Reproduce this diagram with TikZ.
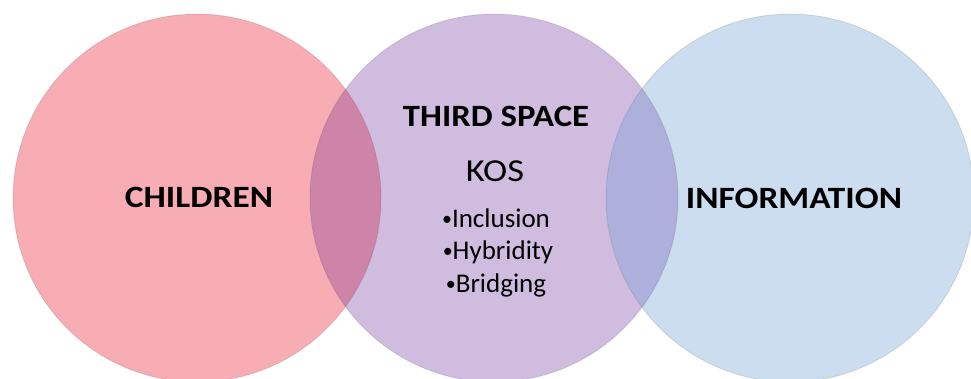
\documentclass[tikz,border=0pt]{standalone}
\usepackage{fontspec}
\setmainfont{Carlito}
\definecolor{pinkfill}{HTML}{F7ADB3}
\definecolor{purplefill}{HTML}{D0BCDF}
\definecolor{bluefill}{HTML}{CBDDEE}
\definecolor{lensleft}{HTML}{CE84A9}
\definecolor{lensright}{HTML}{ADB0DA}
\newcommand{\widetext}[2]{\scalebox{#1}[1]{#2}}
\newcommand{\smalldot}{\raisebox{2.5pt}{\fontsize{20}{20}\selectfont •}}
\tikzset{
  setedge/.style={draw=black, draw opacity=0.09, line width=1pt},
  bigtitle/.style={anchor=base, inner sep=0pt, font=\fontsize{31}{36}\selectfont\bfseries},
  kostext/.style={anchor=base, inner sep=0pt, font=\fontsize{32}{37}\selectfont},
  bullettext/.style={anchor=base, inner sep=0pt, font=\fontsize{27}{32}\selectfont},
}
\begin{document}
\begin{tikzpicture}[x=1pt,y=1pt]
\useasboundingbox (0,0) rectangle (971,379);
\clip (0,0) rectangle (971,379);
% circle centres
\coordinate (cL) at (197,181);
\coordinate (cM) at (494,181);
\coordinate (cR) at (790,181);
% the three sets
\fill[pinkfill] (cL) circle (184);
\fill[purplefill] (cM) circle (184);
\fill[bluefill] (cR) circle (184);
% overlaps
\begin{scope}
  \clip (cL) circle (184);
  \fill[lensleft] (cM) circle (184);
\end{scope}
\begin{scope}
  \clip (cM) circle (184);
  \fill[lensright] (cR) circle (184);
\end{scope}
% soft outlines
\draw[setedge] (cL) circle (184);
\draw[setedge] (cM) circle (184);
\draw[setedge] (cR) circle (184);
% labels
\node[bigtitle] (children) at (199,171) {\widetext{1.14}{CHILDREN}};
\node[bigtitle] (information) at (794,170) {\widetext{1.14}{INFORMATION}};
\node[bigtitle] (third) at (496,252) {\widetext{1.12}{THIRD SPACE}};
\node[kostext] (kos) at (495,197) {\widetext{1.14}{KOS}};
\node[bullettext] (inclusion) at (496,151) {\smalldot Inclusion};
\node[bullettext] (hybridity) at (498,119) {\smalldot Hybridity};
\node[bullettext] (bridging) at (496,86) {\smalldot Bridging};
\end{tikzpicture}
\end{document}
